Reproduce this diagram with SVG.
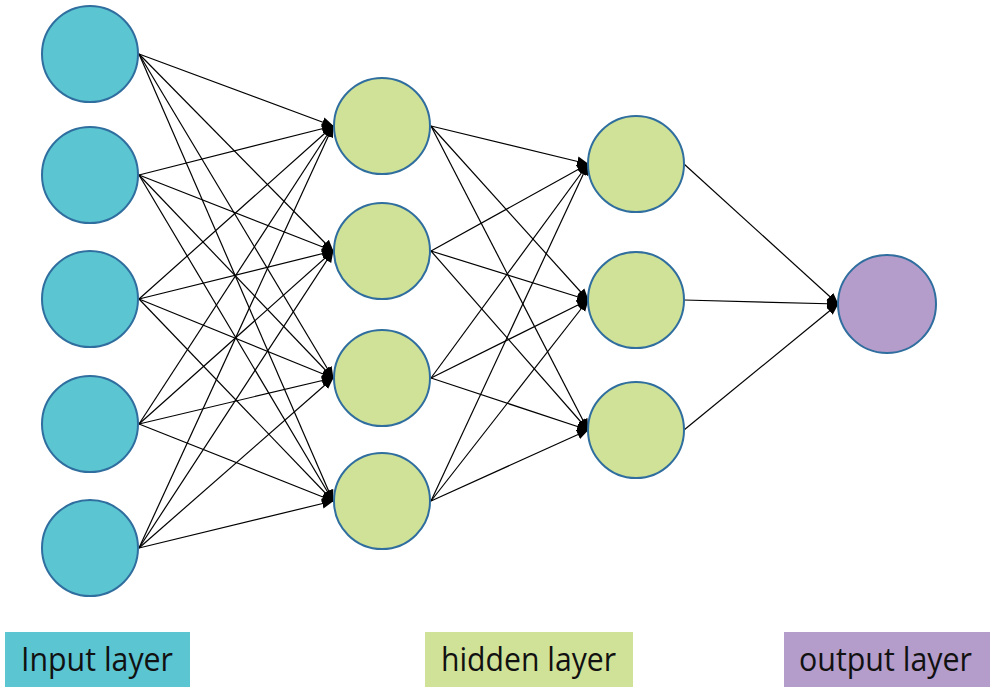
<svg xmlns="http://www.w3.org/2000/svg" width="995" height="693" viewBox="0 0 995 693">
<defs>
<style>
.n{stroke:#2f6e9e;stroke-width:2}
.in{fill:#5bc5d2}
.hd{fill:#d0e298}
.out{fill:#b49ccb}
.c line{stroke:#000;stroke-width:1.2;marker-end:url(#ah)}
.lbl{font-family:"Open Sans","Liberation Sans",sans-serif;font-size:32px;fill:#111}
</style>
<marker id="ah" markerUnits="userSpaceOnUse" markerWidth="12" markerHeight="12" viewBox="0 0 12 12" refX="11" refY="6" orient="auto">
<path d="M0,1 L12,6 L0,11 Z" fill="#000"/>
</marker>
</defs>
<rect width="995" height="693" fill="#fff"/>
<g class="c" id="connectors">
<line x1="139" y1="54" x2="333" y2="126"/><line x1="139" y1="54" x2="333" y2="251"/><line x1="139" y1="54" x2="333" y2="378"/><line x1="139" y1="54" x2="333" y2="501"/>
<line x1="139" y1="175" x2="333" y2="126"/><line x1="139" y1="175" x2="333" y2="251"/><line x1="139" y1="175" x2="333" y2="378"/><line x1="139" y1="175" x2="333" y2="501"/>
<line x1="139" y1="299" x2="333" y2="126"/><line x1="139" y1="299" x2="333" y2="251"/><line x1="139" y1="299" x2="333" y2="378"/><line x1="139" y1="299" x2="333" y2="501"/>
<line x1="139" y1="424" x2="333" y2="126"/><line x1="139" y1="424" x2="333" y2="251"/><line x1="139" y1="424" x2="333" y2="378"/><line x1="139" y1="424" x2="333" y2="501"/>
<line x1="139" y1="548" x2="333" y2="126"/><line x1="139" y1="548" x2="333" y2="251"/><line x1="139" y1="548" x2="333" y2="378"/><line x1="139" y1="548" x2="333" y2="501"/>
<line x1="431" y1="126" x2="588" y2="164"/><line x1="431" y1="126" x2="588" y2="300"/><line x1="431" y1="126" x2="588" y2="430"/>
<line x1="431" y1="251" x2="588" y2="164"/><line x1="431" y1="251" x2="588" y2="300"/><line x1="431" y1="251" x2="588" y2="430"/>
<line x1="431" y1="378" x2="588" y2="164"/><line x1="431" y1="378" x2="588" y2="300"/><line x1="431" y1="378" x2="588" y2="430"/>
<line x1="431" y1="501" x2="588" y2="164"/><line x1="431" y1="501" x2="588" y2="300"/><line x1="431" y1="501" x2="588" y2="430"/>
<line x1="684" y1="164" x2="838" y2="304"/><line x1="684" y1="300" x2="838" y2="304"/><line x1="684" y1="430" x2="838" y2="304"/>
</g>
<g id="i1"><circle class="n in" cx="90" cy="54" r="48"/></g>
<g id="i2"><circle class="n in" cx="90" cy="175" r="48"/></g>
<g id="i3"><circle class="n in" cx="90" cy="299" r="48"/></g>
<g id="i4"><circle class="n in" cx="90" cy="424" r="48"/></g>
<g id="i5"><circle class="n in" cx="90" cy="548" r="48"/></g>
<g id="h1a"><circle class="n hd" cx="382" cy="126" r="48"/></g>
<g id="h1b"><circle class="n hd" cx="382" cy="251" r="48"/></g>
<g id="h1c"><circle class="n hd" cx="382" cy="378" r="48"/></g>
<g id="h1d"><circle class="n hd" cx="382" cy="501" r="48"/></g>
<g id="h2a"><circle class="n hd" cx="636" cy="164" r="48"/></g>
<g id="h2b"><circle class="n hd" cx="636" cy="300" r="48"/></g>
<g id="h2c"><circle class="n hd" cx="636" cy="430" r="48"/></g>
<g id="o1"><circle class="n out" cx="887" cy="304" r="49"/></g>
<g id="label-input"><rect x="5" y="632" width="185" height="55" class="in"/><text class="lbl" x="21" y="671" textLength="152" lengthAdjust="spacingAndGlyphs">Input layer</text></g>
<g id="label-hidden"><rect x="425" y="632" width="208" height="55" class="hd"/><text class="lbl" x="441" y="671" textLength="175" lengthAdjust="spacingAndGlyphs">hidden layer</text></g>
<g id="label-output"><rect x="784" y="632" width="206" height="55" class="out"/><text class="lbl" x="799" y="671" textLength="173" lengthAdjust="spacingAndGlyphs">output layer</text></g>
</svg>
